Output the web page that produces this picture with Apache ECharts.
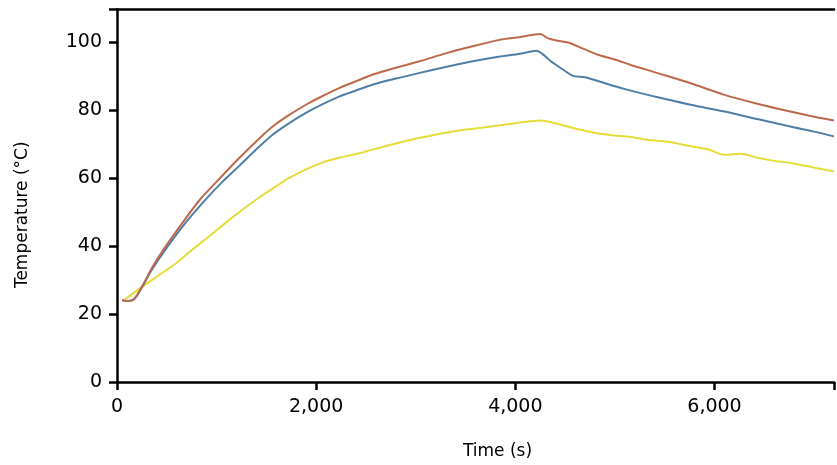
<!DOCTYPE html>
<html>
<head>
<meta charset="utf-8">
<script src="https://cdn.jsdelivr.net/npm/echarts@6/dist/echarts.min.js"></script>
<style>html,body{margin:0;padding:0;background:#fff}#c{width:837px;height:465px}</style>
</head>
<body>
<div id="c"></div>
<script>
// Time (s) and temperature (°C) readings
const redSeries = [[50,24.0],[100,23.8],[170,24.3],[260,28.5],[350,33.5],[480,39.5],[650,46.5],[830,53.5],[1050,60.4],[1230,65.9],[1400,70.8],[1563,75.1],[1730,78.5],[1897,81.5],[2060,84.0],[2230,86.4],[2400,88.4],[2563,90.3],[2800,92.4],[3030,94.2],[3300,96.6],[3560,98.6],[3830,100.5],[4050,101.4],[4250,102.3],[4330,101.0],[4410,100.4],[4530,99.8],[4680,98.0],[4830,96.2],[5000,94.8],[5160,93.2],[5430,90.8],[5760,87.8],[6100,84.4],[6430,81.8],[6760,79.5],[7000,78.0],[7200,76.9]];
const blueSeries = [[50,24.0],[100,23.8],[170,24.3],[260,28.3],[350,33.0],[500,39.5],[680,46.5],[880,53.3],[1050,58.6],[1230,63.6],[1400,68.4],[1563,72.7],[1730,76.1],[1897,79.1],[2060,81.6],[2230,83.9],[2400,85.7],[2563,87.4],[2800,89.2],[3030,90.8],[3300,92.6],[3560,94.2],[3830,95.6],[4050,96.5],[4210,97.4],[4290,96.0],[4360,94.2],[4470,92.0],[4580,90.0],[4700,89.6],[4900,87.8],[5100,86.1],[5430,83.7],[5760,81.5],[6100,79.5],[6430,77.3],[6760,75.1],[7000,73.6],[7200,72.2]];
const yellowSeries = [[80,24.3],[263,28.2],[430,31.6],[597,35.0],[760,39.0],[930,42.9],[1100,47.0],[1263,50.7],[1430,54.3],[1597,57.5],[1730,60.0],[1900,62.5],[2060,64.5],[2230,65.9],[2400,67.0],[2563,68.3],[2800,70.1],[3030,71.7],[3300,73.3],[3560,74.4],[3830,75.4],[4050,76.3],[4263,76.9],[4380,76.2],[4497,75.3],[4630,74.3],[4763,73.4],[4950,72.6],[5163,72.0],[5300,71.3],[5530,70.6],[5763,69.3],[5930,68.4],[6097,66.8],[6263,67.1],[6430,65.9],[6600,65.0],[6763,64.4],[7000,63.0],[7200,61.9]];
const xTicks = [0, 2000, 4000, 6000];
const yTicks = [0, 20, 40, 60, 80, 100];

const chart = echarts.init(document.getElementById('c'), null, {renderer: 'canvas'});
const font = 'DejaVu Sans';
const axisLine = {show: true, lineStyle: {color: '#000', width: 2.5}};
function mkLine(data, color) {
  return {type: 'line', data: data, showSymbol: false, smooth: 0.3,
    lineStyle: {color: color, width: 2}, itemStyle: {color: color}, z: 3};
}
chart.setOption({
  animation: false,
  backgroundColor: '#fff',
  grid: {left: 117, right: 0, top: 9.5, bottom: 82.3},
  xAxis: [{
    type: 'value', min: 0, max: 7200, interval: 2000,
    axisLine: axisLine,
    axisTick: {show: true, length: 8, lineStyle: {color: '#000', width: 2.5}},
    splitLine: {show: false},
    axisLabel: {color: '#000', fontFamily: font, fontSize: 19, margin: 16,
      formatter: v => xTicks.includes(v) ? v.toLocaleString('en-US') : ''},
    name: 'Time (s)', nameLocation: 'middle', nameGap: 61,
    nameTextStyle: {color: '#000', fontFamily: font, fontSize: 17, padding: [0, 0, 0, 44]}
  }, {
    type: 'value', position: 'top', min: 0, max: 7200,
    axisLine: axisLine, axisTick: {show: false}, axisLabel: {show: false}, splitLine: {show: false}
  }],
  yAxis: {
    type: 'value', min: 0, max: 109.5, interval: 20,
    axisLine: axisLine,
    axisTick: {show: true, length: 8, lineStyle: {color: '#000', width: 2.5}},
    splitLine: {show: false},
    axisLabel: {color: '#000', fontFamily: font, fontSize: 19, margin: 15,
      formatter: v => yTicks.includes(v) ? String(v) : ''},
    name: 'Temperature (°C)', nameLocation: 'middle', nameGap: 86,
    nameTextStyle: {color: '#000', fontFamily: font, fontSize: 17, padding: [0, 38, 0, 0]}
  },
  series: [
    mkLine(yellowSeries, '#e6de38'),
    mkLine(blueSeries, '#4f7fa6'),
    mkLine(redSeries, '#bd6a4c')
  ]
});
</script>
</body>
</html>
